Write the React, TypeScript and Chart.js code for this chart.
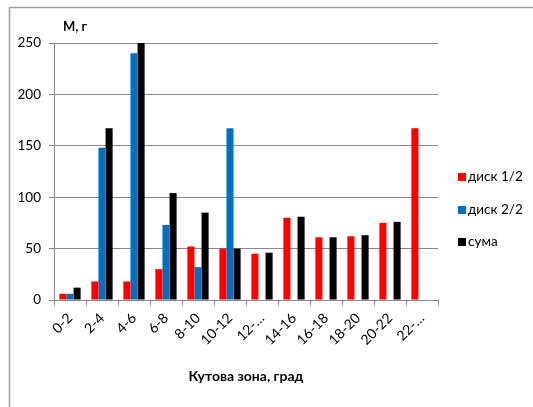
import React, { useEffect, useRef } from "react";
import { Chart, registerables } from "chart.js";
Chart.register(...registerables);

const categories = ["0-2", "2-4", "4-6", "6-8", "8-10", "10-12", "12-…", "14-16", "16-18", "18-20", "20-22", "22-…"];
const disk1 = [6, 18, 18, 30, 52, 50, 45, 80, 61, 62, 75, 167];
const disk2 = [6, 148, 240, 73, 32, 167, 0, 0, 0, 0, 0, 0];
const sum = [12, 167, 250, 104, 85, 50, 46, 81, 61, 63, 76, 0];
const seriesLabels = ["диск 1/2", "диск 2/2", "сума"];
const seriesColors = ["#FF0000", "#0070C0", "#000000"];
const yTitle = "M, г";
const xTitle = "Кутова зона, град";

const FONT = "Lato, 'Open Sans', sans-serif";

const decorPlugin = {
  id: "decor",
  beforeDraw(chart: any) {
    const ctx = chart.ctx;
    ctx.save();
    ctx.strokeStyle = "#a0a0a0";
    ctx.lineWidth = 1.5;
    ctx.beginPath();
    ctx.moveTo(9.5, 407);
    ctx.lineTo(9.5, 7.5);
    ctx.lineTo(533, 7.5);
    ctx.stroke();
    ctx.restore();
  },
  afterDraw(chart: any) {
    const ctx = chart.ctx;
    ctx.save();
    ctx.fillStyle = "#000";
    ctx.font = "bold 13px " + FONT;
    ctx.textAlign = "left";
    ctx.textBaseline = "middle";
    ctx.fillText(yTitle, 63, 27);
    ctx.font = "13.5px " + FONT;
    const ys = [177, 210, 242];
    chart.data.datasets.forEach((ds: any, i: number) => {
      ctx.fillStyle = ds.backgroundColor;
      ctx.fillRect(458, ys[i] - 4, 8, 8);
      ctx.fillStyle = "#000";
      ctx.fillText(ds.label, 468, ys[i]);
    });
    ctx.restore();
  },
};

export default function App() {
  const ref = useRef<HTMLCanvasElement>(null);
  useEffect(() => {
    if (!ref.current) return;
    const data = [disk1, disk2, sum];
    const chart = new Chart(ref.current, {
      type: "bar",
      data: {
        labels: categories,
        datasets: seriesLabels.map((label, i) => ({
          label,
          data: data[i],
          backgroundColor: seriesColors[i],
          borderWidth: 0,
          categoryPercentage: 0.664,
          barPercentage: 1,
        })),
      },
      plugins: [decorPlugin],
      options: {
        animation: false,
        responsive: false,
        maintainAspectRatio: false,
        layout: { padding: { left: 0, top: 43, right: 95, bottom: 16 } },
        plugins: { legend: { display: false }, tooltip: { enabled: false } },
        scales: {
          x: {
            afterFit: (s: any) => { s.height = 91; },
            grid: { offset: true, drawOnChartArea: false, drawTicks: true, tickLength: 5, color: "#888" },
            border: { display: true, color: "#888", width: 1 },
            ticks: {
              autoSkip: false,
              minRotation: 45,
              maxRotation: 45,
              padding: 5,
              color: "#000",
              font: { family: FONT, size: 14 },
            },
            title: {
              display: true,
              text: xTitle,
              color: "#000",
              font: { family: FONT, size: 14, weight: "bold" },
              padding: { top: 4, bottom: 6 },
            },
          },
          y: {
            min: 0,
            max: 250,
            afterFit: (s: any) => { s.width = 54; },
            grid: { color: "#888", drawTicks: true, tickLength: 5 },
            border: { display: true, color: "#888", width: 1 },
            ticks: {
              stepSize: 50,
              padding: 8,
              color: "#000",
              font: { family: FONT, size: 13.5 },
            },
          },
        },
      },
    });
    return () => chart.destroy();
  }, []);
  return (
    <div style={{ position: "fixed", left: 0, top: 0, width: 533, height: 407, background: "#fff" }}>
      <canvas ref={ref} width={533} height={407} style={{ display: "block" }} />
    </div>
  );
}
